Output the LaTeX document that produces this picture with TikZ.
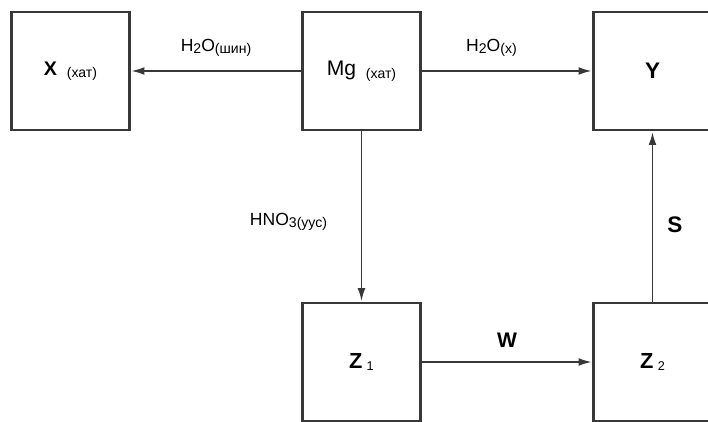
\documentclass[tikz,border=0pt]{standalone}
\usepackage{fontspec}
\setmainfont{Liberation Sans}
\usetikzlibrary{positioning,arrows.meta}
\definecolor{linegray}{HTML}{383838}
\newcommand{\lowtxt}[2]{\raisebox{-0.12em}{\fontsize{#1}{#1}\selectfont #2}}

\begin{document}
\begin{tikzpicture}[
    node distance=4.325cm and 4.325cm,
    block/.style={draw=linegray, line width=1.5pt, minimum width=2.95cm, minimum height=2.95cm, inner sep=0pt, outer sep=0pt},
    flow/.style={draw=linegray, line width=1pt, shorten >=1.5pt, -{Latex[length=9pt,width=5.5pt]}},
    lbl/.style={font=\fontsize{12.5}{12.5}\selectfont, inner sep=0pt},
    big/.style={font=\fontsize{15}{15}\selectfont\bfseries, inner sep=0pt}
  ]
  \path[use as bounding box, clip] (-9.0375,-8.775) rectangle (8.6625,1.775);

  \node[block] (mg) {\fontsize{15}{15}\selectfont Mg\kern7pt\lowtxt{10}{(хат)}};
  \node[block, left=of mg] (x) {\fontsize{14}{14}\selectfont\textbf{X}\kern7pt\lowtxt{10}{(хат)}};
  \node[block, right=of mg] (y) {\fontsize{16}{16}\selectfont\textbf{Y}};
  \node[block, below=of mg] (z1) {\fontsize{15.5}{15.5}\selectfont\textbf{Z}\kern3pt\lowtxt{9}{1}};
  \node[block, right=of z1] (z2) {\fontsize{15.5}{15.5}\selectfont\textbf{Z}\kern3pt\lowtxt{9}{2}};

  \draw[flow] (mg) -- node[lbl, above=10pt] {H\lowtxt{10}{2}O\lowtxt{10}{(шин)}} (x);
  \draw[flow] (mg) -- node[lbl, above=10pt, pos=0.41] {H\lowtxt{10}{2}O\lowtxt{10}{(х)}} (y);
  \draw[flow] (mg) -- node[lbl, left=24pt, pos=0.53] {HNO\lowtxt{10}{3(уус)}} (z1);
  \draw[flow] (z1) -- node[big, above=10pt] {W} (z2);
  \draw[flow, line width=1.3pt] (z2) -- node[big, right=10pt, pos=0.45, font=\fontsize{16}{16}\selectfont\bfseries] {S} (y);

\end{tikzpicture}
\end{document}
